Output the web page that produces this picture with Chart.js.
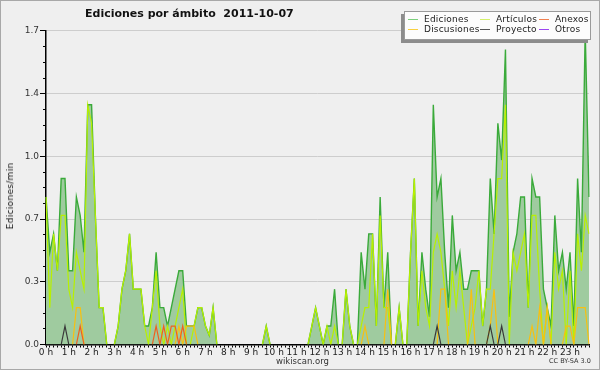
<!DOCTYPE html>
<html>
<head>
<meta charset="utf-8">
<script src="https://cdn.jsdelivr.net/npm/chart.js@4"></script>
<style>
  body { margin: 0; background: #efefef; }
  #wrap { position: relative; width: 600px; height: 370px; font-family: "DejaVu Sans", sans-serif; }
  #c { position: absolute; left: 0; top: 0; }
  #frame { position: absolute; left: 0; top: 0; width: 598px; height: 368px; border: 1px solid #a8a8a8; pointer-events: none; }
  #title { position: absolute; left: 85px; top: 7px; font-weight: bold; font-size: 11px; color: #111; white-space: pre; }
  #ylab { position: absolute; left: 10px; top: 196px; font-size: 9px; letter-spacing: 0.3px; color: #111;
          white-space: nowrap; transform: translate(-50%, -50%) rotate(-90deg); }
  #legend { position: absolute; left: 404px; top: 11px; width: 185px; height: 27px; background: #fcfcfc; border: 1px solid #9a9a9a; box-shadow: -3px 3px 0 #8c8c8c; }
  .it { position: absolute; font-size: 9px; color: #222; letter-spacing: 0.2px; white-space: nowrap; }
  .it i { display: inline-block; width: 10px; height: 1px; vertical-align: middle; margin-right: 6px; }
  #foot1 { position: absolute; left: 276px; top: 356px; font-size: 8.5px; color: #333; }
  #foot2 { position: absolute; left: 549px; top: 357px; font-size: 6.5px; color: #333; }
</style>
</head>
<body>
<div id="wrap">
  <canvas id="c" width="600" height="370"></canvas>
  <div id="title">Ediciones por ámbito  2011-10-07</div>
  <div id="ylab">Ediciones/min</div>
  <div id="legend">
    <span class="it" style="left:3px;top:2px"><i style="background:#7ccf7c"></i>Ediciones</span>
    <span class="it" style="left:75px;top:2px"><i style="background:#d4f06a"></i>Artículos</span>
    <span class="it" style="left:134px;top:2px"><i style="background:#f08050"></i>Anexos</span>
    <span class="it" style="left:3px;top:12px"><i style="background:#f8d040"></i>Discusiones</span>
    <span class="it" style="left:75px;top:12px"><i style="background:#555"></i>Proyecto</span>
    <span class="it" style="left:134px;top:12px"><i style="background:#9b45f0"></i>Otros</span>
  </div>
  <div id="foot1">wikiscan.org</div>
  <div id="foot2">CC BY-SA 3.0</div>
  <div id="frame"></div>
</div>
<script>
// 10-minute bins over the day, values in edits per minute
const times = Array.from({ length: 144 }, (_, i) => Math.floor(i / 6) + ':' + (i % 6) + '0');

const ediciones = [
  0.8, 0.5, 0.6, 0.4, 0.9, 0.9, 0.4, 0.4, 0.8, 0.7, 0.5, 1.3, 1.3, 0.7, 0.2, 0.2, 0, 0,
  0, 0.1, 0.3, 0.4, 0.6, 0.3, 0.3, 0.3, 0.1, 0.1, 0.2, 0.5, 0.2, 0.2, 0.1, 0.2, 0.3, 0.4,
  0.4, 0.1, 0.1, 0.1, 0.2, 0.2, 0.1, 0.05, 0.2, 0, 0, 0, 0, 0, 0, 0, 0, 0,
  0, 0, 0, 0, 0.1, 0, 0, 0, 0, 0, 0, 0, 0, 0, 0, 0, 0.1, 0.2,
  0.1, 0, 0.1, 0.1, 0.3, 0, 0, 0.3, 0.1, 0, 0, 0.5, 0.3, 0.6, 0.6, 0.1, 0.8, 0.2,
  0.5, 0, 0, 0.2, 0, 0, 0.5, 0.9, 0.1, 0.5, 0.3, 0.15, 1.3, 0.8, 0.9, 0.5, 0.2, 0.7,
  0.4, 0.5, 0.3, 0.3, 0.4, 0.4, 0.4, 0.1, 0.3, 0.9, 0.6, 1.2, 1.0, 1.6, 0.15, 0.5, 0.6, 0.8,
  0.8, 0.2, 0.9, 0.8, 0.8, 0.3, 0.2, 0.1, 0.7, 0.4, 0.5, 0.3, 0.5, 0.1, 0.9, 0.5, 1.7, 0.8
];
const articulos = [
  0.8, 0.2, 0.6, 0.4, 0.7, 0.7, 0.3, 0.2, 0.5, 0.4, 0.3, 1.3, 1.2, 0.7, 0.2, 0.2, 0, 0,
  0, 0.1, 0.3, 0.4, 0.6, 0.3, 0.3, 0.3, 0.1, 0, 0.2, 0.4, 0.1, 0, 0.1, 0, 0.1, 0.2,
  0.3, 0, 0, 0.1, 0.2, 0.2, 0.1, 0.05, 0.2, 0, 0, 0, 0, 0, 0, 0, 0, 0,
  0, 0, 0, 0, 0.1, 0, 0, 0, 0, 0, 0, 0, 0, 0, 0, 0, 0.1, 0.2,
  0.1, 0, 0.1, 0, 0.1, 0, 0, 0.3, 0.1, 0, 0, 0.1, 0.2, 0.2, 0.6, 0.1, 0.7, 0.2,
  0.2, 0, 0, 0.2, 0, 0, 0.5, 0.9, 0.1, 0.4, 0.2, 0.1, 0.5, 0.6, 0.5, 0.3, 0.1, 0.4,
  0.2, 0.4, 0.2, 0, 0.1, 0.2, 0.4, 0.1, 0.3, 0.3, 0.6, 0.9, 0.9, 1.3, 0, 0.5, 0.4, 0.5,
  0.6, 0.2, 0.7, 0.7, 0.3, 0, 0.2, 0, 0.5, 0.3, 0.4, 0, 0.4, 0, 0.6, 0.4, 0.7, 0.6
];
const discusiones = [
  0, 0, 0, 0, 0, 0, 0, 0, 0.2, 0.2, 0, 0, 0, 0, 0, 0, 0, 0,
  0, 0, 0, 0, 0, 0, 0, 0, 0, 0, 0, 0, 0, 0, 0, 0, 0, 0.1,
  0, 0.1, 0.1, 0.1, 0, 0, 0, 0, 0, 0, 0, 0, 0, 0, 0, 0, 0, 0,
  0, 0, 0, 0, 0, 0, 0, 0, 0, 0, 0, 0, 0, 0, 0, 0, 0, 0,
  0, 0, 0, 0, 0, 0, 0, 0, 0, 0, 0, 0, 0.1, 0, 0, 0, 0, 0,
  0.3, 0, 0, 0, 0, 0, 0, 0, 0, 0, 0, 0, 0, 0, 0.3, 0.3, 0, 0,
  0, 0, 0, 0, 0.3, 0, 0, 0, 0, 0.1, 0.3, 0, 0, 0, 0, 0, 0, 0,
  0, 0, 0.1, 0, 0.2, 0, 0.2, 0, 0, 0, 0, 0.1, 0.1, 0, 0.2, 0.2, 0.2, 0
];
const anexos = [
  0, 0, 0, 0, 0, 0, 0, 0, 0, 0.1, 0, 0, 0, 0, 0, 0, 0, 0,
  0, 0, 0, 0, 0, 0, 0, 0, 0, 0, 0, 0.1, 0, 0.1, 0, 0.1, 0.1, 0,
  0.1, 0, 0, 0, 0, 0, 0, 0, 0, 0, 0, 0, 0, 0, 0, 0, 0, 0,
  0, 0, 0, 0, 0, 0, 0, 0, 0, 0, 0, 0, 0, 0, 0, 0, 0, 0,
  0, 0, 0, 0, 0, 0, 0, 0, 0, 0, 0, 0, 0, 0, 0, 0, 0, 0,
  0, 0, 0, 0, 0, 0, 0, 0, 0, 0, 0, 0, 0, 0, 0, 0, 0, 0,
  0, 0, 0, 0, 0, 0, 0, 0, 0, 0, 0, 0, 0, 0, 0, 0, 0, 0,
  0, 0, 0, 0, 0, 0, 0, 0, 0, 0, 0, 0, 0, 0, 0, 0, 0, 0
];
const proyecto = [
  0, 0, 0, 0, 0, 0.1, 0, 0, 0, 0, 0, 0, 0, 0, 0, 0, 0, 0,
  0, 0, 0, 0, 0, 0, 0, 0, 0, 0, 0, 0, 0, 0, 0, 0, 0, 0,
  0, 0, 0, 0, 0, 0, 0, 0, 0, 0, 0, 0, 0, 0, 0, 0, 0, 0,
  0, 0, 0, 0, 0, 0, 0, 0, 0, 0, 0, 0, 0, 0, 0, 0, 0, 0,
  0, 0, 0, 0, 0, 0, 0, 0, 0, 0, 0, 0, 0, 0, 0, 0, 0, 0,
  0, 0, 0, 0, 0, 0, 0, 0, 0, 0, 0, 0, 0, 0.1, 0, 0, 0, 0,
  0, 0, 0, 0, 0, 0, 0, 0, 0, 0.1, 0, 0, 0.1, 0, 0, 0, 0, 0,
  0, 0, 0, 0, 0, 0, 0, 0, 0, 0, 0, 0, 0, 0, 0, 0, 0, 0
];
const otros = new Array(144).fill(0);

const yMax = 1.7;
const yStep = 0.085; // minor tick spacing, labels every 4th

// don't stroke flat runs along the baseline (hidden under the axis in the original)
const hideZero = {
  borderColor: ctx => (ctx.p0.parsed.y === 0 && ctx.p1.parsed.y === 0) ? 'rgba(0,0,0,0)' : undefined
};

function line(label, data, color, width, order, extra) {
  return Object.assign({
    label, data, borderColor: color, borderWidth: width, order,
    pointRadius: 0, tension: 0, fill: false, segment: hideZero
  }, extra || {});
}

new Chart(document.getElementById('c'), {
  type: 'line',
  data: {
    labels: times,
    datasets: [
      line('Ediciones', ediciones, '#3aaa3a', 1.4, 10, { fill: 'origin', backgroundColor: '#9fcb9f' }),
      line('Artículos', articulos, '#b8f000', 1.2, 5),
      line('Anexos', anexos, '#f0601e', 1.2, 3),
      line('Discusiones', discusiones, '#f8c010', 1.2, 4),
      line('Proyecto', proyecto, '#3a3a3a', 1.2, 2),
      line('Otros', otros, '#9b45f0', 1.2, 1),
    ],
  },
  options: {
    responsive: false,
    animation: false,
    layout: { padding: { left: 0, top: 31, right: 11, bottom: 0 } },
    plugins: { legend: { display: false }, tooltip: { enabled: false } },
    scales: {
      x: {
        z: 1,
        grid: { drawOnChartArea: false, tickLength: 3, tickColor: '#000' },
        border: { color: '#000', width: 1.5 },
        ticks: {
          autoSkip: false, maxRotation: 0, padding: 0,
          color: '#222', font: { family: 'DejaVu Sans', size: 9 },
          callback: (v, i) => i % 6 === 0 ? (i / 6) + ' h' : ''
        },
        afterFit: s => { s.height = 25.5; }
      },
      y: {
        min: 0, max: yMax,
        afterBuildTicks: s => {
          s.ticks = [];
          for (let i = 0; i <= 20; i++) s.ticks.push({ value: i * yStep });
        },
        grid: {
          color: ctx => ctx.index % 4 === 0 ? '#cdcdcd' : 'rgba(0,0,0,0)',
          tickColor: '#000',
          tickLength: 6,
          tickBorderDash: ctx => ctx.index % 4 === 0 ? [] : [0, 3, 3, 0]
        },
        border: { color: '#000', width: 1.5 },
        ticks: {
          padding: 1, color: '#333', font: { family: 'DejaVu Sans', size: 9 },
          callback: (v, i) => i % 4 === 0 ? v.toFixed(1) : ''
        },
        afterFit: s => { s.width = 46; }
      }
    }
  }
});
</script>
</body>
</html>
